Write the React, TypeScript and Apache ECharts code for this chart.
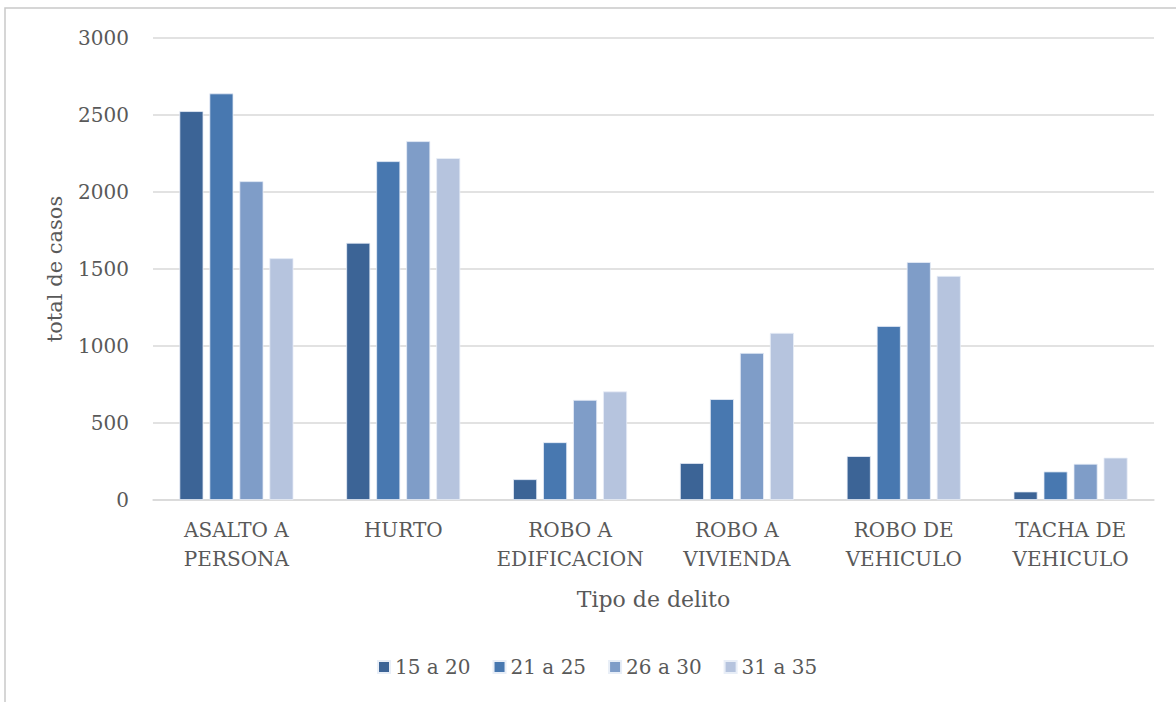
import React, { useEffect, useRef } from "react";
import * as echarts from "echarts";

const categories = [
  "ASALTO A\nPERSONA",
  "HURTO",
  "ROBO A\nEDIFICACION",
  "ROBO A\nVIVIENDA",
  "ROBO DE\nVEHICULO",
  "TACHA DE\nVEHICULO",
];
const seriesNames = ["15 a 20", "21 a 25", "26 a 30", "31 a 35"];
const s15a20 = [2525, 1670, 135, 240, 285, 55];
const s21a25 = [2640, 2200, 375, 655, 1130, 185];
const s26a30 = [2070, 2330, 650, 955, 1545, 235];
const s31a35 = [1570, 2220, 705, 1085, 1455, 275];
const colors = ["#3c6496", "#4878b0", "#7f9dc8", "#b6c4de"];

const FONT = "DejaVu Serif";

export default function App() {
  const ref = useRef<HTMLDivElement>(null);
  useEffect(() => {
    if (!ref.current) return;
    const chart = echarts.init(ref.current, undefined, { renderer: "svg" });
    const data = [s15a20, s21a25, s26a30, s31a35];
    chart.setOption({
      animation: false,
      backgroundColor: "#ffffff",
      textStyle: { fontFamily: FONT },
      graphic: [
        {
          type: "rect",
          shape: { x: 5, y: 8, width: 1400, height: 900 },
          style: { fill: "none", stroke: "#c9c9c9", lineWidth: 1.5 },
          silent: true,
        },
      ],
      grid: { left: 153, right: 22, top: 38, bottom: 202, containLabel: false },
      legend: {
        data: seriesNames,
        top: 652,
        left: 372,
        itemWidth: 12,
        itemHeight: 12,
        itemGap: 22,
        icon: "rect",
        textStyle: { fontFamily: FONT, fontSize: 20, color: "#595959" },
      },
      xAxis: {
        type: "category",
        data: categories,
        name: "Tipo de delito",
        nameLocation: "middle",
        nameGap: 88,
        nameTextStyle: { fontFamily: FONT, fontSize: 22, color: "#595959" },
        axisLine: { lineStyle: { color: "#d9d9d9", width: 1.5 } },
        axisTick: { show: false },
        axisLabel: {
          fontFamily: FONT,
          fontSize: 20,
          color: "#595959",
          lineHeight: 29,
          margin: 15,
          interval: 0,
        },
      },
      yAxis: {
        type: "value",
        min: 0,
        max: 3000,
        interval: 500,
        name: "total de casos",
        nameLocation: "middle",
        nameGap: 88,
        nameTextStyle: { fontFamily: FONT, fontSize: 21, color: "#595959" },
        axisLine: { show: false },
        axisTick: { show: false },
        axisLabel: {
          fontFamily: FONT,
          fontSize: 20,
          color: "#595959",
          margin: 24,
          formatter: (v: number) => String(v),
        },
        splitLine: { lineStyle: { color: "#d9d9d9", width: 1.5 } },
      },
      series: seriesNames.map((n, i) => ({
        name: n,
        type: "bar",
        data: data[i],
        barWidth: 24,
        barGap: "25%",
        itemStyle: { color: colors[i], borderColor: "#e8eef7", borderWidth: 0.8 },
      })),
    });
    return () => chart.dispose();
  }, []);
  return (
    <div
      ref={ref}
      style={{ position: "fixed", left: 0, top: 0, width: 1176, height: 702 }}
    />
  );
}
